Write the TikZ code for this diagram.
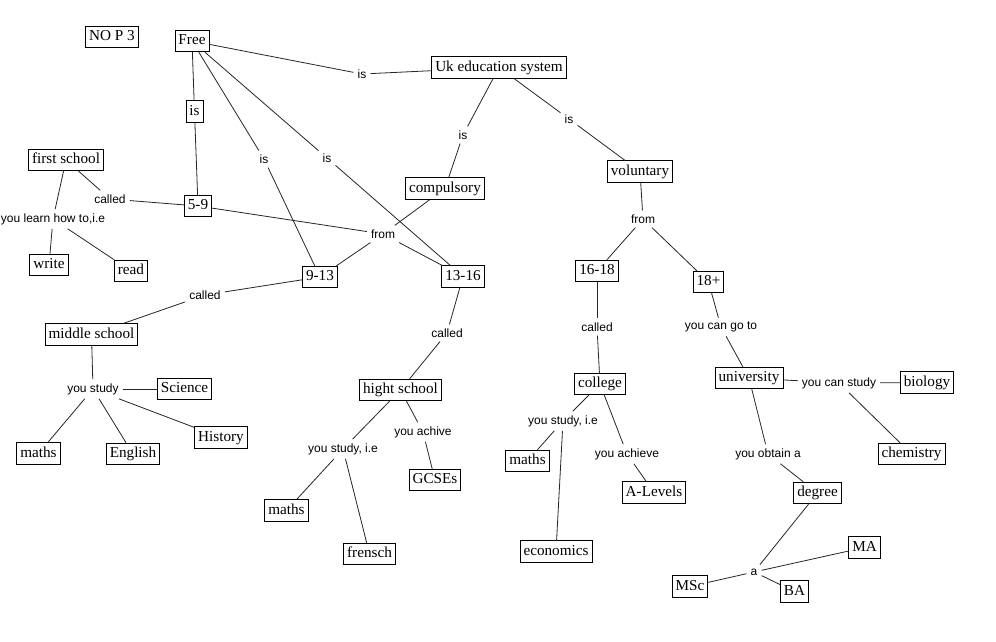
\documentclass[tikz,border=0pt]{standalone}
\usepackage{fontspec}
\setmainfont{Liberation Serif}
\newfontfamily\lblfont{Liberation Sans}
\begin{document}
\begin{tikzpicture}[x=1pt,y=-1pt,
  box/.style={draw=black,line width=0.8pt,font=\fontsize{15.2}{17}\selectfont,inner xsep=3.5pt,inner ysep=4pt,text height=10.5pt,text depth=3pt},
  lbl/.style={font=\lblfont\fontsize{12}{14}\selectfont,inner xsep=4pt,inner ysep=4pt},
  link/.style={line width=0.8pt,black!85}]
\useasboundingbox (0,0) rectangle (996,642);
\fill[white] (0,0) rectangle (996,642);
% boxes
\node[box] (nop) at (112,37) {NO P 3};
\node[box] (free) at (192,41) {Free};
\node[box] (uk) at (499,67.5) {Uk education system};
\node[box] (isbox) at (194.5,111.5) {is};
\node[box] (first) at (66,160) {first school};
\node[box] (n59) at (198,206) {5-9};
\node[box] (write) at (49,265) {write};
\node[box] (read) at (131,271) {read};
\node[box] (comp) at (445,188.5) {compulsory};
\node[box] (n913) at (320,277) {9-13};
\node[box] (n1316) at (463,276.5) {13-16};
\node[box] (middle) at (91.5,334.5) {middle school};
\node[box] (science) at (184.5,389) {Science};
\node[box] (history) at (221,437.5) {History};
\node[box] (maths1) at (38.5,453.5) {maths};
\node[box] (english) at (133,454) {English};
\node[box] (high) at (400.5,390) {hight school};
\node[box] (gcses) at (435,480) {GCSEs};
\node[box] (maths2) at (286.5,510.5) {maths};
\node[box] (frensch) at (369.5,554) {frensch};
\node[box] (vol) at (640,171.5) {voluntary};
\node[box] (n1618) at (597,271) {16-18};
\node[box] (n18) at (708.5,282) {18+};
\node[box] (college) at (600,384) {college};
\node[box] (maths3) at (527.5,461) {maths};
\node[box] (alevels) at (654,492.5) {A-Levels};
\node[box] (econ) at (556,551.5) {economics};
\node[box] (uni) at (749,378) {university};
\node[box] (biology) at (927,382.5) {biology};
\node[box] (chem) at (911.5,454) {chemistry};
\node[box] (degree) at (817.5,493) {degree};
\node[box] (ma) at (864.5,547.5) {MA};
\node[box] (msc) at (690,586.5) {MSc};
\node[box] (ba) at (794.5,591.5) {BA};
% labels
\node[lbl] (isA) at (362,74) {is};
\node[lbl] (isB) at (264,159) {is};
\node[lbl] (isC) at (327,158) {is};
\node[lbl] (isD) at (463,135) {is};
\node[lbl] (isE) at (569,119) {is};
\node[lbl] (calledA) at (110,199) {called};
\node[lbl] (learn) at (53,219) {you learn how to,i.e};
\node[lbl] (fromA) at (383,234) {from};
\node[lbl] (calledB) at (205,295) {called};
\node[lbl] (study1) at (93,389) {you study};
\node[lbl] (calledC) at (447,333) {called};
\node[lbl] (achive) at (423,432) {you achive};
\node[lbl] (study2) at (343,449) {you study, i.e};
\node[lbl] (fromB) at (643,219) {from};
\node[lbl] (calledD) at (597,327) {called};
\node[lbl] (cango) at (721,327) {you can go to};
\node[lbl] (study3) at (563,421) {you study, i.e};
\node[lbl] (achieve) at (627,454) {you achieve};
\node[lbl] (canstudy) at (839,383) {you can study};
\node[lbl] (obtain) at (768,454) {you obtain a};
\node[lbl] (aLbl) at (754,572) {a};
% links
\draw[link] (free) -- (isA); \draw[link] (isA) -- (uk);
\draw[link] (free) -- (isbox); \draw[link] (isbox) -- (n59);
\draw[link] (free) -- (isB); \draw[link] (isB) -- (n913);
\draw[link] (free) -- (isC); \draw[link] (isC) -- (n1316);
\draw[link] (uk) -- (isD); \draw[link] (isD) -- (comp);
\draw[link] (uk) -- (isE); \draw[link] (isE) -- (vol);
\draw[link] (first) -- (calledA); \draw[link] (calledA) -- (n59);
\draw[link] (first) -- (learn); \draw[link] (learn) -- (write); \draw[link] (learn) -- (read);
\draw[link] (n59) -- (fromA); \draw[link] (comp) -- (fromA);
\draw[link] (fromA) -- (n913); \draw[link] (fromA) -- (n1316);
\draw[link] (n913) -- (calledB); \draw[link] (calledB) -- (middle);
\draw[link] (middle) -- (study1);
\draw[link] (study1) -- (science); \draw[link] (study1) -- (history);
\draw[link] (study1) -- (maths1); \draw[link] (study1) -- (english);
\draw[link] (n1316) -- (calledC); \draw[link] (calledC) -- (high);
\draw[link] (high) -- (study2); \draw[link] (study2) -- (maths2); \draw[link] (study2) -- (frensch);
\draw[link] (high) -- (achive); \draw[link] (achive) -- (gcses);
\draw[link] (vol) -- (fromB); \draw[link] (fromB) -- (n1618); \draw[link] (fromB) -- (n18);
\draw[link] (n1618) -- (calledD); \draw[link] (calledD) -- (college);
\draw[link] (college) -- (study3); \draw[link] (study3) -- (maths3); \draw[link] (study3) -- (econ);
\draw[link] (college) -- (achieve); \draw[link] (achieve) -- (alevels);
\draw[link] (n18) -- (cango); \draw[link] (cango) -- (uni);
\draw[link] (uni) -- (canstudy); \draw[link] (canstudy) -- (biology); \draw[link] (canstudy) -- (chem);
\draw[link] (uni) -- (obtain); \draw[link] (obtain) -- (degree);
\draw[link] (degree) -- (aLbl); \draw[link] (aLbl) -- (ma); \draw[link] (aLbl) -- (msc); \draw[link] (aLbl) -- (ba);
\end{tikzpicture}
\end{document}
